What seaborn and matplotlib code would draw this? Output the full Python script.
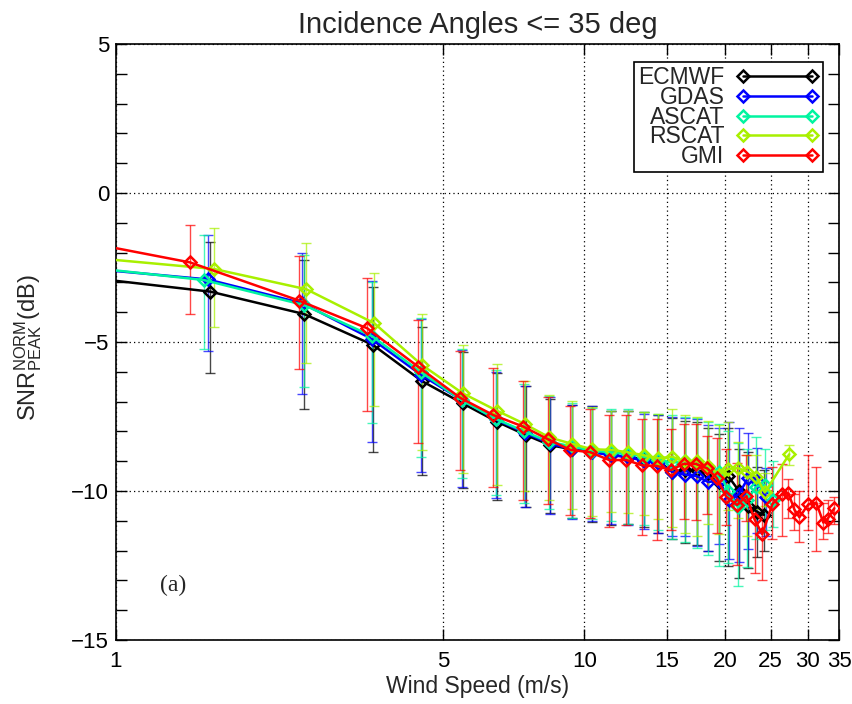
import matplotlib
matplotlib.use("Agg")
import matplotlib.pyplot as plt
import numpy as np
import pandas as pd
import seaborn as sns
from matplotlib.lines import Line2D
from matplotlib.ticker import FixedLocator, FixedFormatter, NullLocator, MultipleLocator

# ---- data (wind speed bin means, mean SNR, bar top / bottom)
names = ['ECMWF', 'GDAS', 'ASCAT', 'RSCAT', 'GMI']
colors = ['#000000', '#0000ff', '#00f5a0', '#a8f000', '#ff0000']

ecmwf_x = [0.6, 1.59, 2.52, 3.54, 4.50, 5.50, 6.50, 7.50, 8.45, 9.40, 10.4, 11.4, 12.4,
           13.4, 14.4, 15.4, 16.4, 17.4, 18.4, 19.4, 20.3, 21.4, 22.4, 23.4, 24.2]
ecmwf_y = [-2.55, -3.31, -4.06, -5.10, -6.31, -7.06, -7.67, -8.12, -8.46, -8.60, -8.65, -8.80, -8.85,
           -8.95, -9.00, -9.35, -9.30, -9.30, -9.40, -9.70, -9.50, -10.00, -10.50, -10.70, -10.80]
ecmwf_hi = [-1.0, -1.63, -2.25, -3.17, -4.49, -5.35, -6.05, -6.48, -6.90, -7.10, -7.14, -7.30, -7.30,
            -7.35, -7.45, -7.55, -7.65, -7.70, -7.90, -8.10, -7.90, -8.60, -8.70, -9.20, -9.30]
ecmwf_lo = [-4.5, -6.03, -7.25, -8.70, -9.46, -9.91, -10.30, -10.55, -10.75, -10.90, -11.03, -11.15, -11.10,
            -11.20, -11.40, -11.60, -11.73, -11.80, -12.00, -12.34, -12.50, -12.92, -12.60, -12.20, -12.00]

gdas_x = [0.6, 1.57, 2.50, 3.52, 4.48, 5.48, 6.48, 7.48, 8.43, 9.40, 10.4, 11.4, 12.4,
          13.4, 14.4, 15.4, 16.4, 17.4, 18.4, 19.4, 20.4, 21.4, 22.4, 23.4, 24.4]
gdas_y = [-2.30, -2.90, -3.70, -4.90, -6.10, -6.95, -7.60, -8.05, -8.40, -8.60, -8.70, -8.80, -8.85,
          -9.00, -9.05, -9.35, -9.45, -9.50, -9.70, -9.65, -10.30, -10.10, -9.55, -9.65, -10.20]
gdas_hi = [-0.8, -1.40, -2.00, -2.94, -4.24, -5.27, -6.02, -6.48, -6.85, -7.10, -7.15, -7.30, -7.30,
           -7.40, -7.45, -7.50, -7.55, -7.60, -7.80, -7.90, -7.70, -7.90, -8.06, -8.56, -9.23]
gdas_lo = [-4.0, -5.29, -6.74, -8.37, -9.35, -9.88, -10.25, -10.55, -10.77, -10.95, -11.00, -11.10, -11.15,
           -11.29, -11.40, -11.51, -11.50, -11.85, -12.01, -11.78, -12.29, -12.37, -11.96, -11.40, -11.50]

ascat_x = [0.6, 1.54, 2.52, 3.52, 4.47, 5.47, 6.47, 7.45, 8.40, 9.40, 10.4, 11.4, 12.4,
           13.4, 14.4, 15.4, 16.4, 17.4, 18.4, 19.4, 20.3, 21.3, 22.3, 23.3, 24.3, 25.3]
ascat_y = [-2.22, -2.92, -3.76, -4.80, -6.00, -6.95, -7.58, -8.00, -8.35, -8.50, -8.65, -8.70, -8.75,
           -8.85, -8.95, -9.05, -9.00, -9.10, -9.20, -9.35, -10.00, -10.55, -10.30, -9.85, -9.80, -10.30]
ascat_hi = [-0.7, -1.41, -2.08, -3.00, -4.20, -5.25, -5.95, -6.40, -6.80, -7.05, -7.20, -7.25, -7.25,
            -7.35, -7.40, -7.45, -7.50, -7.55, -7.70, -7.75, -8.00, -8.40, -8.60, -8.20, -8.60, -9.00]
ascat_lo = [-3.9, -5.23, -6.50, -7.73, -8.85, -9.57, -10.15, -10.40, -10.60, -10.90, -10.95, -11.00, -11.10,
            -11.15, -11.30, -11.60, -11.70, -11.90, -12.15, -12.50, -12.40, -13.20, -12.55, -11.60, -11.30, -11.20]

rscat_x = [0.6, 1.62, 2.55, 3.56, 4.50, 5.50, 6.50, 7.46, 8.42, 9.42, 10.4, 11.4, 12.4,
           13.4, 14.4, 15.4, 16.4, 17.4, 18.4, 19.4, 20.3, 21.3, 22.3, 23.3, 24.3, 27.4]
rscat_y = [-1.93, -2.55, -3.23, -4.37, -5.77, -6.72, -7.30, -7.75, -8.20, -8.42, -8.60, -8.62, -8.70,
           -8.80, -8.90, -8.85, -9.00, -9.00, -9.15, -9.45, -9.26, -9.23, -9.35, -9.52, -10.05, -8.77]
rscat_hi = [-0.5, -1.17, -1.68, -2.70, -4.07, -5.10, -5.75, -6.30, -6.78, -6.97, -7.17, -7.32, -7.30,
            -7.35, -7.40, -7.25, -7.45, -7.50, -7.65, -7.80, -7.70, -8.37, -8.80, -8.80, -9.40, -8.46]
rscat_lo = [-3.5, -4.49, -5.69, -7.15, -8.62, -9.41, -9.80, -10.00, -10.30, -10.60, -10.85, -10.70, -10.75,
            -10.80, -10.95, -11.20, -11.40, -11.50, -11.10, -11.45, -10.65, -10.90, -11.50, -10.60, -10.50, -9.13]

gmi_x = [0.6, 1.44, 2.46, 3.44, 4.42, 5.43, 6.39, 7.41, 8.38, 9.33, 10.3, 11.3, 12.3, 13.3, 14.3,
         15.3, 16.3, 17.3, 18.3, 19.2, 20.1, 21.2, 22.2, 23.1, 24.0, 25.2, 26.4, 27.3, 28.1, 28.8,
         30.1, 31.3, 32.4, 33.1, 34.2]
gmi_y = [-1.18, -2.33, -3.61, -4.54, -5.83, -6.87, -7.45, -7.84, -8.27, -8.62, -8.70, -8.96, -8.96, -9.14, -9.16,
         -9.30, -9.09, -9.09, -9.24, -9.57, -10.19, -10.47, -10.17, -10.95, -11.45, -10.45, -10.11, -10.08, -10.62, -10.88,
         -10.45, -10.39, -11.06, -10.93, -10.58]
gmi_hi = [0.0, -1.07, -2.10, -2.86, -4.26, -5.29, -5.88, -6.31, -6.83, -7.15, -7.26, -7.45, -7.45, -7.60, -7.57,
          -7.93, -7.75, -7.76, -8.15, -8.23, -8.60, -9.05, -8.80, -9.60, -10.00, -9.20, -9.10, -9.60, -10.10, -10.00,
          -8.80, -9.20, -10.40, -10.30, -10.20]
gmi_lo = [-3.0, -4.06, -5.90, -7.32, -8.40, -9.30, -9.88, -10.30, -10.44, -10.80, -10.92, -11.20, -11.14, -11.48, -11.64,
          -11.30, -10.95, -10.97, -10.77, -11.42, -11.14, -12.48, -11.00, -12.74, -12.99, -11.60, -11.50, -10.90, -11.30, -11.70,
          -11.30, -12.00, -11.60, -11.40, -11.10]

xticks = [1, 5, 10, 15, 20, 25, 30, 35]
xticklabels = ['1', '5', '10', '15', '20', '25', '30', '35']

series = [
    (ecmwf_x, ecmwf_y, ecmwf_hi, ecmwf_lo),
    (gdas_x, gdas_y, gdas_hi, gdas_lo),
    (ascat_x, ascat_y, ascat_hi, ascat_lo),
    (rscat_x, rscat_y, rscat_hi, rscat_lo),
    (gmi_x, gmi_y, gmi_hi, gmi_lo),
]

frames = []
for name, (sx, sy, shi, slo) in zip(names, series):
    frames.append(pd.DataFrame({'Wind': sx, 'SNR': sy, 'hi': shi, 'lo': slo, 'Source': name}))
df = pd.concat(frames, ignore_index=True)

# ---- style
sns.set_style("ticks")
plt.rcParams['font.family'] = ['Liberation Sans', 'DejaVu Sans']
plt.rcParams['mathtext.fontset'] = 'custom'
plt.rcParams['mathtext.rm'] = 'Liberation Sans'
plt.rcParams['mathtext.default'] = 'regular'

fig = plt.figure(figsize=(8.53, 7.04), dpi=100)
ax = fig.add_axes([116 / 853, 1 - 640 / 704, 723 / 853, 596 / 704])

palette = dict(zip(names, colors))
for name in names:
    d = df[df['Source'] == name]
    c = palette[name]
    ax.errorbar(d['Wind'], d['SNR'], yerr=[d['SNR'] - d['lo'], d['hi'] - d['SNR']],
                fmt='none', ecolor=c, elinewidth=1.0, capsize=3.5, capthick=1.0,
                alpha=0.72, zorder=2)
    sns.lineplot(data=d, x='Wind', y='SNR', color=c, marker='D', markersize=6.5,
                 markerfacecolor='none', markeredgecolor=c, markeredgewidth=1.8,
                 linewidth=1.8, estimator=None, sort=False, legend=False, ax=ax, zorder=3)

ax.set_xscale('log')
ax.set_xlim(1, 35)
ax.set_ylim(-15, 5)
ax.xaxis.set_major_locator(FixedLocator(xticks))
ax.xaxis.set_major_formatter(FixedFormatter(xticklabels))
ax.xaxis.set_minor_locator(NullLocator())
ax.yaxis.set_major_locator(MultipleLocator(5))
ax.yaxis.set_minor_locator(MultipleLocator(1))

ax.grid(True, which='major', color='black', linestyle=(0, (1, 2.5)), linewidth=0.9)
ax.set_axisbelow(True)

ax.tick_params(which='both', direction='in', top=True, right=True, length=8, width=1.0,
               colors='black', labelsize=16)
ax.tick_params(axis='x', pad=8)
ax.tick_params(axis='y', pad=5)
for sp in ax.spines.values():
    sp.set_linewidth(1.2)
    sp.set_color('black')

ax.set_title('Incidence Angles <= 35 deg', fontsize=21, pad=8)
ax.set_xlabel('Wind Speed (m/s)', fontsize=16.5, labelpad=2)
ax.set_ylabel(r'SNR$_{PEAK}^{NORM}$(dB)', fontsize=17)
ax.yaxis.set_label_coords(-0.10, 0.49)

ax.text(0.061, 0.092, '(a)', transform=ax.transAxes, fontsize=17,
        family='Liberation Serif', ha='left', va='center')

handles = [Line2D([], [], color=c, marker='D', markersize=6.5, markerfacecolor='none',
                  markeredgecolor=c, markeredgewidth=1.8, linewidth=1.8) for c in colors]
leg = ax.legend(handles, names, loc='upper right', bbox_to_anchor=(0.978, 0.970),
                numpoints=2, markerfirst=False, fontsize=16.5, handlelength=3.6,
                handletextpad=0.5, labelspacing=-0.15, borderpad=0.2, borderaxespad=0,
                frameon=True, fancybox=False, framealpha=1, edgecolor='black')
leg.get_frame().set_linewidth(1.2)

fig.savefig('out.png', dpi=100)
